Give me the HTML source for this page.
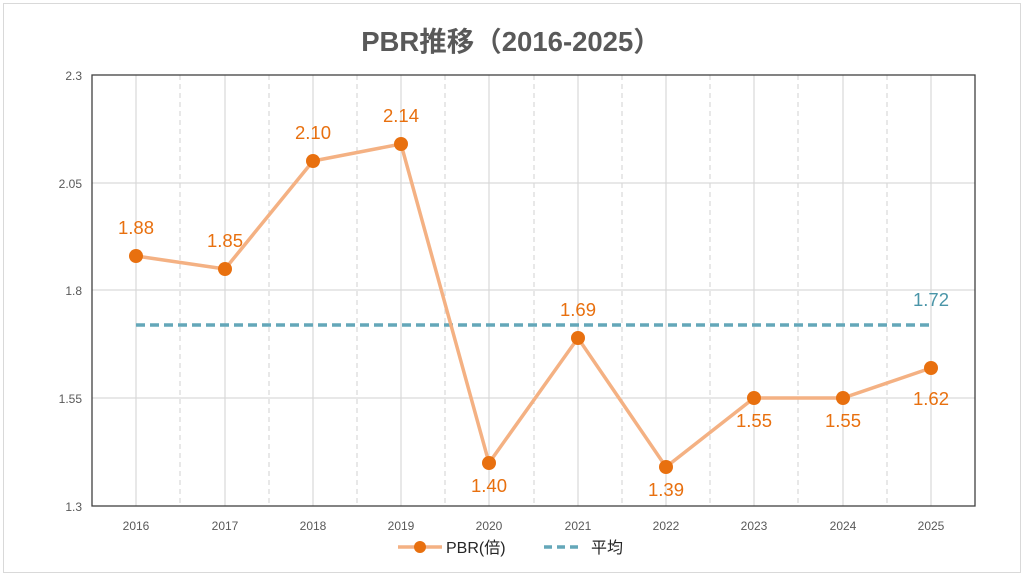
<!DOCTYPE html>
<html><head><meta charset="utf-8"><style>
body{margin:0;background:#fff;}
svg{display:block;font-family:"Liberation Sans","Noto Sans CJK JP",sans-serif;}
</style></head><body>
<svg width="1024" height="576" viewBox="0 0 1024 576">
<rect x="3.5" y="3.5" width="1017" height="569" fill="#fff" stroke="#d9d9d9"/>
<text x="511" y="51" text-anchor="middle" font-size="27.5" font-weight="bold" fill="#595959">PBR推移（2016-2025）</text>
<g stroke="#d9d9d9" stroke-width="1.2">
<line x1="92" y1="183" x2="975" y2="183"/><line x1="92" y1="290" x2="975" y2="290"/><line x1="92" y1="398" x2="975" y2="398"/>
<line x1="136" y1="75" x2="136" y2="506"/><line x1="225" y1="75" x2="225" y2="506"/><line x1="313" y1="75" x2="313" y2="506"/><line x1="401" y1="75" x2="401" y2="506"/><line x1="489" y1="75" x2="489" y2="506"/><line x1="578" y1="75" x2="578" y2="506"/><line x1="666" y1="75" x2="666" y2="506"/><line x1="754" y1="75" x2="754" y2="506"/><line x1="843" y1="75" x2="843" y2="506"/><line x1="931" y1="75" x2="931" y2="506"/>
</g>
<g stroke="#d9d9d9" stroke-width="1.2" stroke-dasharray="5,4">
<line x1="180" y1="75" x2="180" y2="506"/><line x1="269" y1="75" x2="269" y2="506"/><line x1="357" y1="75" x2="357" y2="506"/><line x1="445" y1="75" x2="445" y2="506"/><line x1="534" y1="75" x2="534" y2="506"/><line x1="622" y1="75" x2="622" y2="506"/><line x1="710" y1="75" x2="710" y2="506"/><line x1="798" y1="75" x2="798" y2="506"/><line x1="887" y1="75" x2="887" y2="506"/>
</g>
<rect x="92" y="75" width="883" height="431" fill="none" stroke="#404040" stroke-width="1.3"/>
<g font-size="12" fill="#595959" text-anchor="end">
<text x="82" y="80">2.3</text><text x="82" y="188">2.05</text><text x="82" y="295">1.8</text><text x="82" y="403">1.55</text><text x="82" y="511">1.3</text>
</g>
<g font-size="12" fill="#595959" text-anchor="middle">
<text x="136" y="530">2016</text><text x="225" y="530">2017</text><text x="313" y="530">2018</text><text x="401" y="530">2019</text><text x="489" y="530">2020</text><text x="578" y="530">2021</text><text x="666" y="530">2022</text><text x="754" y="530">2023</text><text x="843" y="530">2024</text><text x="931" y="530">2025</text>
</g>
<line x1="136" y1="325" x2="931" y2="325" stroke="#64a7b9" stroke-width="3.5" stroke-dasharray="9,5"/>
<polyline points="136,256 225,269 313,161 401,144 489,463 578,338 666,467 754,398 843,398 931,368" fill="none" stroke="#f4b183" stroke-width="3.5"/>
<g fill="#e8700f">
<circle cx="136" cy="256" r="7"/><circle cx="225" cy="269" r="7"/><circle cx="313" cy="161" r="7"/><circle cx="401" cy="144" r="7"/><circle cx="489" cy="463" r="7"/><circle cx="578" cy="338" r="7"/><circle cx="666" cy="467" r="7"/><circle cx="754" cy="398" r="7"/><circle cx="843" cy="398" r="7"/><circle cx="931" cy="368" r="7"/>
</g>
<g font-size="18.5" fill="#e8700f" text-anchor="middle">
<text x="136" y="234">1.88</text><text x="225" y="247">1.85</text><text x="313" y="139">2.10</text><text x="401" y="122">2.14</text><text x="489" y="492">1.40</text><text x="578" y="316">1.69</text><text x="666" y="496">1.39</text><text x="754" y="427">1.55</text><text x="843" y="427">1.55</text><text x="931" y="405">1.62</text>
</g>
<text x="931" y="306" font-size="18.5" fill="#4a95a8" text-anchor="middle">1.72</text>
<line x1="398" y1="547" x2="442" y2="547" stroke="#f4b183" stroke-width="3.5"/>
<circle cx="420" cy="547" r="6" fill="#e8700f"/>
<text x="446" y="553" font-size="16" fill="#262626">PBR(倍)</text>
<line x1="544" y1="547" x2="583" y2="547" stroke="#64a7b9" stroke-width="3.5" stroke-dasharray="8,5"/>
<text x="591" y="553" font-size="16" fill="#262626">平均</text>
</svg>
</body></html>
